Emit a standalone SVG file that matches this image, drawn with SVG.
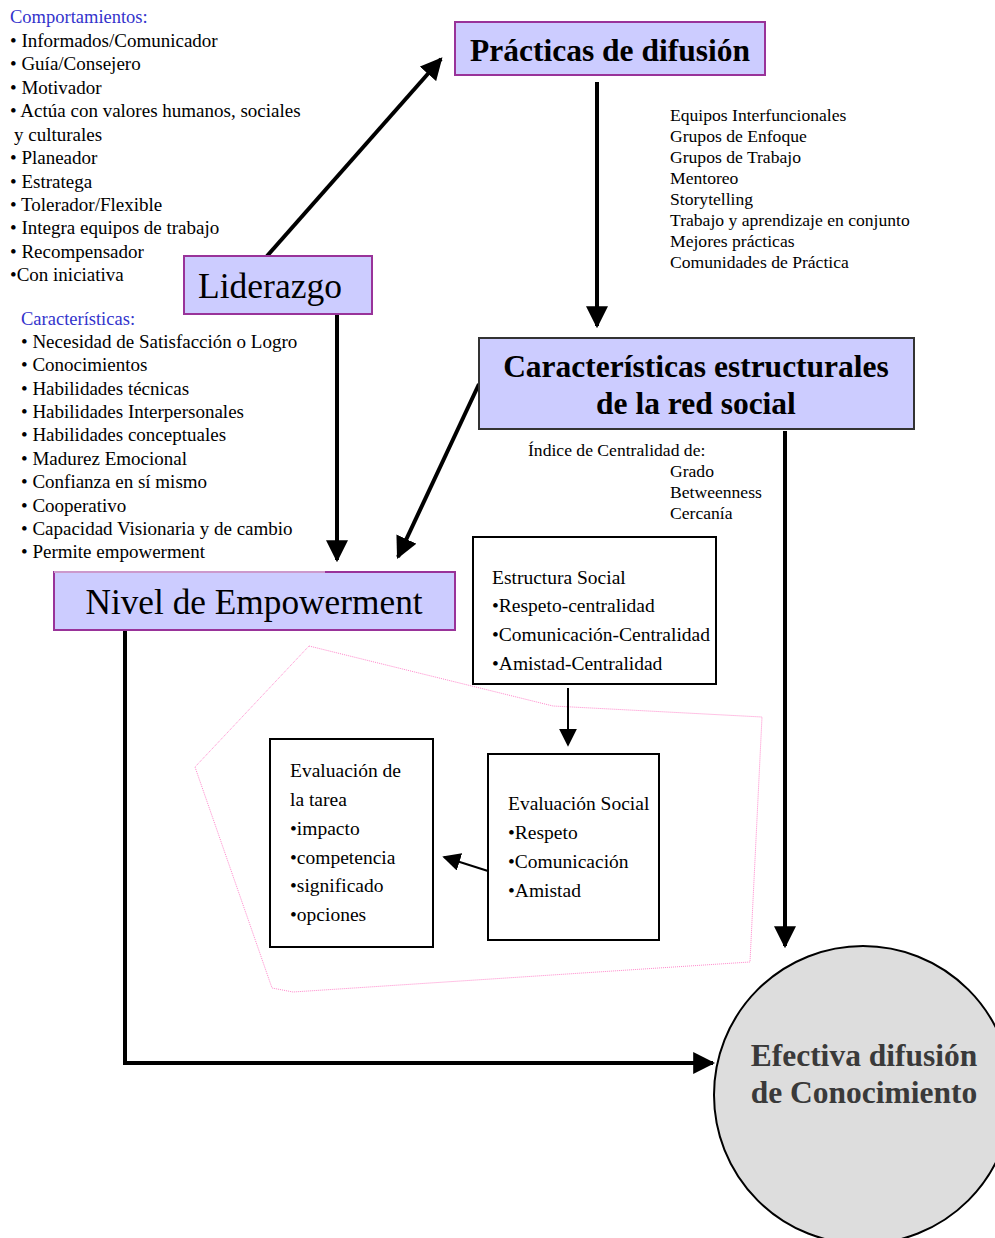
<svg xmlns="http://www.w3.org/2000/svg" width="995" height="1238" viewBox="0 0 995 1238">
  <style>
    text { font-family: "Liberation Serif", "Times New Roman", serif; fill: #000; }
    .head { fill: #3333cc; font-size: 18.5px; }
    .lst { font-size: 19px; }
    .side { font-size: 17.6px; }
    .box { font-size: 19.5px; }
    .node { fill: #ccccff; stroke: #993399; stroke-width: 2; }
    .node2 { fill: #ccccff; stroke: #333333; stroke-width: 2; }
    .plain { fill: #ffffff; stroke: #000; stroke-width: 2; }
    .thick { stroke: #000; stroke-width: 4; fill: none; }
    .thin { stroke: #000; stroke-width: 2; fill: none; }
  </style>
  <defs>
    <marker id="big" viewBox="0 0 10 10" refX="9" refY="5" markerWidth="5.5" markerHeight="5.5" markerUnits="strokeWidth" orient="auto">
      <path d="M0,0 L10,5 L0,10 z" fill="#000"/>
    </marker>
    <marker id="small" viewBox="0 0 10 10" refX="9" refY="5" markerWidth="9" markerHeight="9" markerUnits="strokeWidth" orient="auto">
      <path d="M0,0 L10,5 L0,10 z" fill="#000"/>
    </marker>
  </defs>

  <!-- behaviours list -->
  <g id="comportamientos">
    <text class="head" x="10" y="23" font-size="19">Comportamientos:</text>
    <text class="lst" x="10" y="47">• Informados/Comunicador</text>
    <text class="lst" x="10" y="70">• Guía/Consejero</text>
    <text class="lst" x="10" y="94">• Motivador</text>
    <text class="lst" x="10" y="117">• Actúa con valores humanos, sociales</text>
    <text class="lst" x="14" y="141">y culturales</text>
    <text class="lst" x="10" y="164">• Planeador</text>
    <text class="lst" x="10" y="188">• Estratega</text>
    <text class="lst" x="10" y="211">• Tolerador/Flexible</text>
    <text class="lst" x="10" y="234">• Integra equipos de trabajo</text>
    <text class="lst" x="10" y="258">• Recompensador</text>
    <text class="lst" x="10" y="281">•Con iniciativa</text>
  </g>

  <!-- traits list -->
  <g id="caracteristicas">
    <text class="head" x="21" y="325">Características:</text>
    <text class="lst" x="21" y="348">• Necesidad de Satisfacción o Logro</text>
    <text class="lst" x="21" y="371">• Conocimientos</text>
    <text class="lst" x="21" y="395">• Habilidades técnicas</text>
    <text class="lst" x="21" y="418">• Habilidades Interpersonales</text>
    <text class="lst" x="21" y="441">• Habilidades conceptuales</text>
    <text class="lst" x="21" y="465">• Madurez Emocional</text>
    <text class="lst" x="21" y="488">• Confianza en sí mismo</text>
    <text class="lst" x="21" y="512">• Cooperativo</text>
    <text class="lst" x="21" y="535">• Capacidad Visionaria y de cambio</text>
    <text class="lst" x="21" y="558">• Permite empowerment</text>
  </g>

  <!-- diffusion practices list -->
  <g id="lista-practicas">
    <text class="side" x="670" y="121">Equipos Interfuncionales</text>
    <text class="side" x="670" y="142">Grupos de Enfoque</text>
    <text class="side" x="670" y="163">Grupos de Trabajo</text>
    <text class="side" x="670" y="184">Mentoreo</text>
    <text class="side" x="670" y="205">Storytelling</text>
    <text class="side" x="670" y="226">Trabajo y aprendizaje en conjunto</text>
    <text class="side" x="670" y="247">Mejores prácticas</text>
    <text class="side" x="670" y="268">Comunidades de Práctica</text>
  </g>

  <!-- centrality index -->
  <g id="indice">
    <text class="side" x="528" y="456">Índice de Centralidad de:</text>
    <text class="side" x="670" y="477">Grado</text>
    <text class="side" x="670" y="498">Betweenness</text>
    <text class="side" x="670" y="519">Cercanía</text>
  </g>

  <!-- dotted social-evaluation region -->
  <polygon points="309,646 553,706 762,717 750,962 293,992 272,988 195,767" fill="none" stroke="#ff88cc" stroke-width="1" stroke-dasharray="1,1"/>

  <!-- connectors -->
  <g id="connectors">
    <line class="thick" x1="267" y1="256" x2="441" y2="59" marker-end="url(#big)"/>
    <line class="thick" x1="597" y1="82" x2="597" y2="326" marker-end="url(#big)"/>
    <line class="thick" x1="337" y1="314" x2="337" y2="560" marker-end="url(#big)"/>
    <line class="thick" x1="479" y1="384" x2="398" y2="557" marker-end="url(#big)"/>
    <line class="thick" x1="785" y1="431" x2="785" y2="946" marker-end="url(#big)"/>
    <polyline class="thick" points="125,630 125,1063 713,1063" marker-end="url(#big)"/>
    <line class="thin" x1="568" y1="688" x2="568" y2="745" marker-end="url(#small)"/>
    <line class="thin" x1="488" y1="871" x2="444" y2="857" marker-end="url(#small)"/>
  </g>

  <g id="practicas">
    <rect class="node" x="455" y="22" width="310" height="53"/>
    <text x="610" y="61" text-anchor="middle" font-size="31.5" font-weight="bold">Prácticas de difusión</text>
  </g>

  <g id="liderazgo">
    <rect class="node" x="184" y="256" width="188" height="58"/>
    <text x="198" y="298" font-size="35.5">Liderazgo</text>
  </g>

  <g id="estructurales">
    <rect class="node2" x="479" y="338" width="435" height="91"/>
    <text x="696" y="377" text-anchor="middle" font-size="31.5" font-weight="bold">Características estructurales</text>
    <text x="696" y="414" text-anchor="middle" font-size="31.5" font-weight="bold">de la red social</text>
  </g>

  <g id="empowerment">
    <rect class="node" x="54" y="572" width="401" height="58"/>
    <line x1="54" y1="572" x2="325" y2="572" stroke="#cc99cc" stroke-width="2"/>
    <text x="254" y="614" text-anchor="middle" font-size="35.3">Nivel de Empowerment</text>
  </g>

  <g id="estructura-social">
    <rect class="plain" x="473" y="537" width="243" height="147"/>
    <text class="box" x="492" y="584">Estructura Social</text>
    <text class="box" x="492" y="612">•Respeto-centralidad</text>
    <text class="box" x="492" y="641">•Comunicación-Centralidad</text>
    <text class="box" x="492" y="670">•Amistad-Centralidad</text>
  </g>

  <g id="evaluacion-tarea">
    <rect class="plain" x="270" y="739" width="163" height="208"/>
    <text class="box" x="290" y="777">Evaluación de</text>
    <text class="box" x="290" y="806">la tarea</text>
    <text class="box" x="290" y="835">•impacto</text>
    <text class="box" x="290" y="864">•competencia</text>
    <text class="box" x="290" y="892">•significado</text>
    <text class="box" x="290" y="921">•opciones</text>
  </g>

  <g id="evaluacion-social">
    <rect class="plain" x="488" y="754" width="171" height="186"/>
    <text class="box" x="508" y="810">Evaluación Social</text>
    <text class="box" x="508" y="839">•Respeto</text>
    <text class="box" x="508" y="868">•Comunicación</text>
    <text class="box" x="508" y="897">•Amistad</text>
  </g>

  <g id="efectiva">
    <circle cx="863" cy="1095" r="149" fill="#dddddd" stroke="#000" stroke-width="2"/>
    <text x="864" y="1066" text-anchor="middle" font-size="31.5" font-weight="bold" style="fill:#3a3a3a">Efectiva difusión</text>
    <text x="864" y="1103" text-anchor="middle" font-size="31.5" font-weight="bold" style="fill:#3a3a3a">de Conocimiento</text>
  </g>
</svg>
